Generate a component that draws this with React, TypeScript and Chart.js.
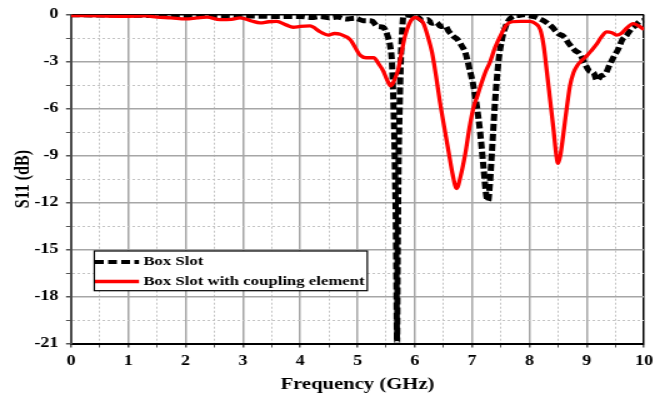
import React, { useEffect, useRef } from "react";
import { Chart, registerables } from "chart.js";

Chart.register(...registerables);

// ---- data ----
const boxSlotFreq = [
  0, 0.5, 1.0, 1.5, 2.0, 2.5, 3.0, 3.4, 3.7, 4.0, 4.2, 4.35, 4.5, 4.65, 4.8, 4.95, 5.1, 5.25, 5.35, 5.45,
  5.52, 5.57, 5.6, 5.63, 5.655, 5.675, 5.69, 5.7, 5.715, 5.735, 5.755, 5.78, 5.8, 5.85, 5.95, 6.05, 6.15,
  6.22, 6.3, 6.38, 6.45, 6.52, 6.6, 6.68, 6.75, 6.82, 6.88, 6.95, 7.02, 7.08, 7.14, 7.2, 7.25, 7.28, 7.31,
  7.35, 7.4, 7.46, 7.52, 7.58, 7.65, 7.72, 7.8, 7.9, 8.0, 8.1, 8.2, 8.3, 8.4, 8.5, 8.6, 8.7, 8.8, 8.88,
  8.95, 9.05, 9.12, 9.18, 9.25, 9.32, 9.4, 9.47, 9.55, 9.62, 9.7, 9.78, 9.85, 9.92, 10.0,
];
const boxSlotS11 = [
  0, -0.02, -0.03, -0.05, -0.05, -0.06, -0.08, -0.1, -0.12, -0.12, -0.18, -0.12, -0.2, -0.15, -0.28, -0.22,
  -0.38, -0.4, -0.75, -0.8, -1.3, -2.0, -3.0, -6, -10, -15, -21, -16, -10, -6, -3, -1, -0.1, -0.02, -0.05,
  -0.15, -0.4, -0.3, -0.55, -0.5, -0.75, -0.7, -1.1, -1.4, -1.6, -2.0, -2.4, -3.4, -4.5, -5.8, -7.5, -9.8,
  -11.6, -11.9, -10.8, -8.5, -5.6, -3.0, -1.6, -0.8, -0.3, -0.1, -0.05, 0, -0.05, -0.15, -0.3, -0.5, -0.8,
  -1.2, -1.4, -1.9, -2.3, -2.5, -3.0, -3.6, -3.7, -4.2, -3.9, -3.8, -3.2, -2.7, -2.2, -1.6, -1.3, -0.9, -0.7,
  -0.45, -0.35,
];

const couplingFreq = [
  0, 0.5, 1.0, 1.3, 1.5, 1.75, 2.0, 2.2, 2.37, 2.6, 2.8, 2.95, 3.15, 3.3, 3.45, 3.59, 3.75, 3.88, 4.0, 4.17,
  4.35, 4.49, 4.6, 4.7, 4.87, 5.05, 5.15, 5.28, 5.38, 5.45, 5.52, 5.58, 5.64, 5.71, 5.77, 5.83, 5.9, 5.96,
  6.02, 6.08, 6.15, 6.22, 6.3, 6.37, 6.44, 6.52, 6.59, 6.66, 6.73, 6.8, 6.88, 6.95, 7.02, 7.1, 7.17, 7.24,
  7.31, 7.4, 7.52, 7.6, 7.7, 7.85, 8.01, 8.1, 8.19, 8.25, 8.3, 8.36, 8.42, 8.47, 8.5, 8.54, 8.59, 8.65, 8.71,
  8.77, 8.83, 8.92, 9.0, 9.08, 9.17, 9.26, 9.35, 9.44, 9.52, 9.6, 9.7, 9.81, 9.9, 10.0,
];
const couplingS11 = [
  -0.05, -0.08, -0.1, -0.08, -0.15, -0.2, -0.27, -0.2, -0.15, -0.32, -0.3, -0.2, -0.4, -0.52, -0.45, -0.43,
  -0.65, -0.8, -0.75, -0.72, -1.1, -1.3, -1.2, -1.25, -1.58, -2.6, -2.75, -2.75, -3.2, -3.6, -4.2, -4.55,
  -4.2, -3.5, -2.4, -1.36, -0.6, -0.25, -0.18, -0.3, -0.55, -1.3, -2.4, -3.9, -5.6, -7.3, -8.75, -10.2,
  -11.1, -10.3, -8.9, -7.3, -6.0, -5.1, -4.3, -3.6, -3.05, -2.1, -1.16, -0.65, -0.45, -0.42, -0.43, -0.55,
  -0.95, -2.0, -3.5, -5.4, -7.3, -9.0, -9.5, -9.0, -7.7, -6.0, -4.5, -3.7, -3.27, -2.9, -2.63, -2.3, -1.9,
  -1.4, -1.1, -1.15, -1.3, -1.2, -0.85, -0.57, -0.7, -0.95,
];

const seriesNames = ["Box Slot", "Box Slot with coupling element"];
const xAxisTitle = "Frequency (GHz)";
const yAxisTitle = "S11 (dB)";
const xMin = 0, xMax = 10, xStep = 0.5, xLabelEvery = 1;
const yMin = -21, yMax = 0, yStep = 1.5, yLabelEvery = 3;

// ---- rendering constants ----
const OUT_W = 665, OUT_H = 396;
const STRETCH = 1.25; // reference text is horizontally widened
const W = Math.round(OUT_W / STRETCH);
const FONT = "'Liberation Serif', 'Times New Roman', serif";

const toPoints = (xs: number[], ys: number[]) => xs.map((x, i) => ({ x, y: ys[i] }));
const isMult = (v: number, m: number) => Math.abs(v / m - Math.round(v / m)) < 1e-6;

const legendPlugin = {
  id: "boxLegend",
  afterDraw(chart: any) {
    const ctx = chart.ctx as CanvasRenderingContext2D;
    const s = STRETCH;
    const x0 = 94.3 / s, x1 = 367.3 / s, y0 = 251, y1 = 290.7;
    ctx.save();
    ctx.fillStyle = "#fff";
    ctx.fillRect(x0, y0, x1 - x0, y1 - y0);
    ctx.strokeStyle = "#000";
    ctx.lineWidth = 1.2;
    ctx.strokeRect(x0, y0, x1 - x0, y1 - y0);
    const sx0 = 95 / s, sx1 = 139 / s;
    const rows = [262, 281.5];
    ctx.beginPath();
    ctx.setLineDash([7, 3.5]);
    ctx.lineWidth = 4;
    ctx.strokeStyle = "#000";
    ctx.moveTo(sx0, rows[0]);
    ctx.lineTo(sx1, rows[0]);
    ctx.stroke();
    ctx.beginPath();
    ctx.setLineDash([]);
    ctx.lineWidth = 3.3;
    ctx.strokeStyle = "#ff0000";
    ctx.moveTo(sx0, rows[1]);
    ctx.lineTo(sx1, rows[1]);
    ctx.stroke();
    ctx.fillStyle = "#000";
    ctx.font = `bold 13.4px ${FONT}`;
    ctx.textBaseline = "middle";
    ctx.textAlign = "left";
    ctx.fillText(seriesNames[0], 143.3 / s, rows[0]);
    ctx.fillText(seriesNames[1], 143.3 / s, rows[1]);
    ctx.restore();
  },
};

export default function App() {
  const ref = useRef<HTMLCanvasElement | null>(null);
  useEffect(() => {
    if (!ref.current) return;
    const chart = new Chart(ref.current, {
      type: "line",
      data: {
        datasets: [
          {
            label: seriesNames[0],
            data: toPoints(boxSlotFreq, boxSlotS11),
            borderColor: "#000",
            borderWidth: 5,
            borderDash: [7, 3],
            pointRadius: 0,
            cubicInterpolationMode: "monotone",
            clip: 0,
            order: 1,
          },
          {
            label: seriesNames[1],
            data: toPoints(couplingFreq, couplingS11),
            borderColor: "#ff0000",
            borderWidth: 3.3,
            pointRadius: 0,
            cubicInterpolationMode: "monotone",
            clip: 0,
            order: 0,
          },
        ],
      },
      options: {
        responsive: false,
        maintainAspectRatio: false,
        animation: false,
        devicePixelRatio: 1,
        layout: { padding: { top: 11.7, right: W - 644 / STRETCH, left: 0, bottom: 0 } },
        plugins: { legend: { display: false }, tooltip: { enabled: false } },
        scales: {
          x: {
            type: "linear",
            min: xMin,
            max: xMax,
            afterFit: (scale: any) => { scale.height = OUT_H - 343.5; },
            ticks: {
              stepSize: xStep,
              autoSkip: false,
              maxRotation: 0,
              padding: 5,
              color: "#000",
              font: { family: FONT, weight: "bold", size: 14.5 },
              callback: (v: any) => (isMult(Number(v), xLabelEvery) ? String(v) : ""),
            },
            grid: {
              tickLength: 4,
              tickColor: "#555",
              color: (c: any) => {
                const v = c.tick?.value;
                if (v === undefined) return "rgba(0,0,0,0)";
                if (v === xMax) return "#000";
                if (v === xMin) return "rgba(0,0,0,0)";
                return isMult(v, xLabelEvery) ? "#a6a6a6" : "#c4c4c4";
              },
              lineWidth: (c: any) => {
                const v = c.tick?.value;
                if (v === undefined) return 1;
                if (v === xMax) return 1.5;
                return isMult(v, xLabelEvery) ? 1.5 : 1;
              },
            },
            border: {
              display: true,
              color: "#000",
              width: 2,
              dash: (c: any) => {
                const v = c.tick?.value;
                if (v === undefined) return [];
                return isMult(v, xLabelEvery) ? [] : [2, 2];
              },
            },
            title: {
              display: true,
              text: xAxisTitle,
              color: "#000",
              font: { family: FONT, weight: "bold", size: 16.5 },
              padding: { top: 0, bottom: 1 },
            },
          },
          y: {
            type: "linear",
            min: yMin,
            max: yMax,
            afterFit: (scale: any) => { scale.width = 71 / STRETCH; },
            ticks: {
              stepSize: yStep,
              autoSkip: false,
              padding: 6,
              color: "#000",
              font: { family: FONT, weight: "bold", size: 14.5 },
              callback: (v: any) => (isMult(Number(v), yLabelEvery) ? String(v) : ""),
            },
            grid: {
              tickLength: 4,
              tickColor: "#555",
              color: (c: any) => {
                const v = c.tick?.value;
                if (v === undefined) return "rgba(0,0,0,0)";
                if (v === yMax) return "#000";
                if (v === yMin) return "rgba(0,0,0,0)";
                return isMult(v, yLabelEvery) ? "#a6a6a6" : "#c4c4c4";
              },
              lineWidth: (c: any) => {
                const v = c.tick?.value;
                if (v === undefined) return 1;
                if (v === yMax) return 1.5;
                return isMult(v, yLabelEvery) ? 1.5 : 1;
              },
            },
            border: {
              display: true,
              color: "#4a4a4a",
              width: 2,
              dash: (c: any) => {
                const v = c.tick?.value;
                if (v === undefined) return [];
                return isMult(v, yLabelEvery) ? [] : [2, 2];
              },
            },
            title: {
              display: true,
              text: yAxisTitle,
              color: "#000",
              font: { family: FONT, weight: "bold", size: 16 },
              padding: { top: 9.5, bottom: 0 },
            },
          },
        },
      },
      plugins: [legendPlugin],
    } as any);
    return () => chart.destroy();
  }, []);

  return (
    <div style={{ position: "fixed", left: 0, top: 0, width: OUT_W, height: OUT_H, background: "#fff" }}>
      <canvas
        ref={ref}
        width={W}
        height={OUT_H}
        style={{ width: `${OUT_W}px`, height: `${OUT_H}px`, display: "block" }}
      />
    </div>
  );
}
